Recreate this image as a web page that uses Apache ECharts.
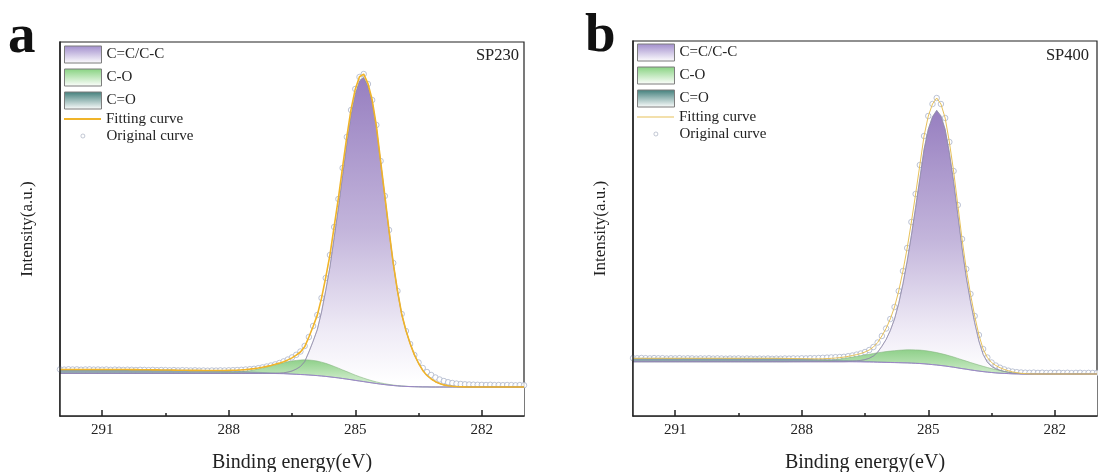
<!DOCTYPE html>
<html><head><meta charset="utf-8">
<script src="https://cdn.jsdelivr.net/npm/echarts@6/dist/echarts.min.js"></script>
<style>html,body{margin:0;padding:0;background:#fff}#c{width:1098px;height:472px}</style>
</head><body><div id="c"></div>
<script>
// Binding energy grid (eV), 0.1 eV steps from 292.0 to 281.0
const ENERGY = [
292,291.9,291.8,291.7,291.6,291.5,291.4,291.3,291.2,291.1,
291,290.9,290.8,290.7,290.6,290.5,290.4,290.3,290.2,290.1,
290,289.9,289.8,289.7,289.6,289.5,289.4,289.3,289.2,289.1,
289,288.9,288.8,288.7,288.6,288.5,288.4,288.3,288.2,288.1,
288,287.9,287.8,287.7,287.6,287.5,287.4,287.3,287.2,287.1,
287,286.9,286.8,286.7,286.6,286.5,286.4,286.3,286.2,286.1,
286,285.9,285.8,285.7,285.6,285.5,285.4,285.3,285.2,285.1,
285,284.9,284.8,284.7,284.6,284.5,284.4,284.3,284.2,284.1,
284,283.9,283.8,283.7,283.6,283.5,283.4,283.3,283.2,283.1,
283,282.9,282.8,282.7,282.6,282.5,282.4,282.3,282.2,282.1,
282,281.9,281.8,281.7,281.6,281.5,281.4,281.3,281.2,281.1,
281];
const MAJOR_TICKS = [291, 288, 285, 282];
const MINOR_TICKS = [289.5, 286.5, 283.5];
const LEGEND_AREAS = ['C=C/C-C', 'C-O', 'C=O'];

// ---------- SP230 (panel a), intensity in a.u. ----------
const ORIG_A = [
46.6,46.4,46.7,46.5,46.6,46.3,46.5,46.6,46.4,46.5,
46.3,46.5,46.2,46.4,46.3,46.1,46.3,46.2,46.0,46.2,
46.1,45.9,46.1,45.8,46.0,45.9,45.7,45.9,45.6,45.8,
45.7,45.5,45.7,45.4,45.5,45.3,45.5,45.4,45.6,45.5,
45.7,45.8,46.0,46.2,46.5,46.8,47.2,47.8,48.6,49.5,
50.5,51.6,53.0,54.6,56.5,58.6,61.2,64.5,70,79,
90,101,118,138,161,189,217,248,279,306,
327,339,342,332,316,291,255,220,186,153,
125,102,85,72,61,53.5,48,44,41,38.5,
36.5,35,33.8,33,32.4,32,31.7,31.5,31.3,31.2,
31.1,31.0,31.2,30.9,31.0,30.8,31.0,30.9,30.7,30.9,
30.8];
const BG_A = [
42.6,42.6,42.6,42.6,42.6,42.6,42.6,42.6,42.6,42.6,
42.6,42.6,42.6,42.6,42.6,42.6,42.6,42.6,42.6,42.6,
42.6,42.6,42.6,42.6,42.6,42.6,42.6,42.6,42.6,42.6,
42.6,42.6,42.6,42.6,42.6,42.6,42.6,42.6,42.6,42.6,
42.6,42.6,42.6,42.6,42.6,42.6,42.6,42.6,42.6,42.6,
42.6,42.5,42.4,42.3,42.1,41.9,41.7,41.5,41.3,41.0,
40.7,40.4,40.0,39.6,39.1,38.6,38.1,37.5,36.9,36.3,
35.6,35.0,34.4,33.7,33.1,32.5,31.9,31.4,30.9,30.5,
30.1,29.8,29.6,29.4,29.3,29.2,29.1,29.1,29.0,29.0,
29,29,29,29,29,29,29,29,29,29,
29,29,29,29,29,29,29,29,29,29,
29];
const CC_A = [
0,0,0,0,0,0,0,0,0,0,
0,0,0,0,0,0,0,0,0,0,
0,0,0,0,0,0,0,0,0,0,
0,0,0,0,0,0,0,0,0,0,
0,0,0,0,0,0,0,0,0,0,
0,0.2,0.4,0.9,1.8,3.1,5.2,8,13,23,
34,46,64,86,110,140,170,203,235,264,
286,300,304,296,281,256,222,188,154,122,
95,72,56,43,32,23.5,16.5,11.5,8,5.3,
3.4,2.1,1.3,0.8,0.45,0.25,0.12,0.05,0,0,
0,0,0,0,0,0,0,0,0,0,
0];
const CO_A = [
0,0,0,0,0,0,0,0,0,0,
0,0,0,0,0,0,0,0,0,0,
0,0,0,0,0,0,0,0,0,0,
0,0,0,0.04,0.06,0.1,0.15,0.23,0.33,0.47,
0.66,0.9,1.2,1.6,2.1,2.75,3.45,4.3,5.25,6.3,
7.48,8.56,9.76,10.94,12.05,13.04,13.87,14.49,14.87,15,
14.87,14.49,13.87,13.04,12.05,10.94,9.76,8.56,7.48,6.3,
5.25,4.3,3.45,2.75,2.1,1.6,1.2,0.9,0.66,0.47,
0.33,0.23,0.15,0.1,0.06,0.04,0,0,0,0,
0,0,0,0,0,0,0,0,0,0,
0,0,0,0,0,0,0,0,0,0,
0];
const CDO_A = [
3.9,3.9,3.9,3.9,3.9,3.9,3.9,3.9,3.9,3.9,
3.9,3.9,3.9,3.9,3.9,3.9,3.85,3.8,3.75,3.7,
3.65,3.6,3.55,3.5,3.45,3.4,3.35,3.3,3.2,3.15,
3.1,3.05,3.0,2.95,2.9,2.8,2.75,2.7,2.6,2.5,
2.4,2.25,2.1,1.9,1.7,1.5,1.3,1.1,0.9,0.7,
0.5,0.4,0.3,0.2,0.15,0.1,0.05,0,0,0,
0,0,0,0,0,0,0,0,0,0,
0,0,0,0,0,0,0,0,0,0,
0,0,0,0,0,0,0,0,0,0,
0,0,0,0,0,0,0,0,0,0,
0,0,0,0,0,0,0,0,0,0,
0];

// ---------- SP400 (panel b), intensity in a.u. ----------
const ORIG_B = [
57.9,57.7,58.0,57.8,57.6,57.9,57.7,57.8,57.5,57.7,
57.6,57.8,57.5,57.7,57.6,57.4,57.6,57.5,57.7,57.4,
57.6,57.5,57.3,57.5,57.4,57.6,57.3,57.5,57.4,57.2,
57.4,57.3,57.5,57.2,57.4,57.3,57.5,57.4,57.6,57.5,
57.7,57.6,57.8,57.8,58.0,58.2,58.4,58.6,58.8,59.0,
59.2,59.8,60.5,61.4,62.5,64,66,69,73.5,80,
87.5,97,109,125,145,168,194,222,251,280,
300,312,318,312,298,274,245,211,177,147,
122,100,81,67,58.5,53.5,50.5,48.3,46.6,45.3,
44.4,43.8,43.5,43.3,43.2,43.4,43.1,43.3,43.0,43.2,
43.1,43.3,43.0,43.2,42.9,43.1,43.2,42.9,43.1,43.0,
43.1];
const BG_B = [
54.3,54.3,54.3,54.3,54.3,54.3,54.3,54.3,54.3,54.3,
54.3,54.3,54.3,54.3,54.3,54.3,54.3,54.3,54.3,54.3,
54.3,54.3,54.3,54.3,54.3,54.3,54.3,54.3,54.3,54.3,
54.3,54.3,54.3,54.3,54.3,54.3,54.3,54.3,54.3,54.3,
54.3,54.3,54.3,54.3,54.3,54.3,54.3,54.3,54.3,54.3,
54.3,54.25,54.2,54.15,54.1,54.0,53.95,53.9,53.8,53.7,
53.6,53.5,53.4,53.3,53.2,53.1,52.9,52.7,52.5,52.2,
51.8,51.4,51.0,50.5,50.0,49.4,48.8,48.1,47.4,46.8,
46.1,45.5,44.9,44.4,43.9,43.5,43.1,42.8,42.6,42.4,
42.2,42.1,42.0,42,42,42,42,42,42,42,
42,42,42,42,42,42,42,42,42,42,
42];
const CC_B = [
0,0,0,0,0,0,0,0,0,0,
0,0,0,0,0,0,0,0,0,0,
0,0,0,0,0,0,0,0,0,0,
0,0,0,0,0,0,0,0,0,0,
0,0,0,0,0,0,0,0,0,0,
0,0.2,0.6,1.0,1.5,2.4,3.75,6.1,10,16,
22.9,32,43.6,59.3,79,101.8,127.8,155.9,185,214.5,
235,247.8,254.6,249.6,236.6,213.8,186,153.4,120.8,92.1,
68.5,47.8,30.1,17.3,10,6.1,4.1,2.8,1.9,1.3,
0.8,0.5,0.3,0.15,0.05,0,0,0,0,0,
0,0,0,0,0,0,0,0,0,0,
0];
const CO_B = [
0,0,0,0,0,0,0,0,0,0,
0,0,0,0,0,0,0,0,0,0,
0,0,0,0,0,0,0,0,0,0,
0,0,0,0,0,0,0,0.05,0.08,0.11,
0.15,0.22,0.3,0.42,0.58,0.8,1.15,1.55,2.05,2.65,
3.3,4.0,4.7,5.4,6.2,7.0,7.8,8.6,9.4,10.1,
10.8,11.4,11.9,12.4,12.8,13.1,13.3,13.4,13.4,13.3,
13.1,12.8,12.4,11.9,11.4,10.8,10.2,9.5,8.8,8.1,
7.4,6.7,6.0,5.3,4.6,3.9,3.3,2.7,2.1,1.6,
1.1,0.7,0.4,0.2,0.1,0,0,0,0,0,
0,0,0,0,0,0,0,0,0,0,
0];
const CDO_B = [
3.4,3.4,3.4,3.4,3.4,3.4,3.4,3.4,3.4,3.4,
3.4,3.4,3.4,3.4,3.4,3.4,3.4,3.4,3.4,3.4,
3.4,3.4,3.4,3.4,3.4,3.4,3.4,3.4,3.4,3.4,
3.4,3.4,3.4,3.4,3.4,3.35,3.3,3.2,3.1,3.0,
2.9,2.75,2.6,2.45,2.3,2.15,2.0,1.8,1.6,1.45,
1.3,1.15,1.0,0.85,0.7,0.6,0.5,0.4,0.3,0.25,
0.2,0.15,0.1,0.05,0,0,0,0,0,0,
0,0,0,0,0,0,0,0,0,0,
0,0,0,0,0,0,0,0,0,0,
0,0,0,0,0,0,0,0,0,0,
0,0,0,0,0,0,0,0,0,0,
0];

const FONT = '"Liberation Serif", "Times New Roman", serif';
const INK = '#222';

// Table builders: each component is drawn on top of the background
function pairs(arr) { return ENERGY.map((e, i) => [e, arr[i]]); }
function onBg(bg, comps) { return ENERGY.map((e, i) => [e, comps.reduce((s, c) => s + c[i], bg[i])]); }
function grad(stops) {
  return new echarts.graphic.LinearGradient(0, 0, 0, 1, stops.map(s => ({offset: s[0], color: s[1]})));
}

const PANELS = [
  {orig: ORIG_A, bg: BG_A, cc: CC_A, co: CO_A, cdo: CDO_A, fitColor: '#f0b429', fitWidth: 1.6, fitLegendH: 2,
   grid: {left: 60, top: 42, width: 464, height: 374}, ymax: 374, legendLeft: 64, legendTop: 45.5,
   ccStops: [[0, '#977fc0'], [0.45, '#c3b5db'], [0.75, '#efebf6'], [0.9, '#ffffff']],
   coStops: [[0, '#8fd08a'], [0.3, '#c3e7be'], [1, '#ffffff']],
   cdoStops: [[0, '#7c98a3'], [0.1, '#a5b7bf'], [1, '#ffffff']]},
  {orig: ORIG_B, bg: BG_B, cc: CC_B, co: CO_B, cdo: CDO_B, fitColor: '#e7c15a', fitWidth: 1.0, fitLegendH: 1.2,
   grid: {left: 633, top: 41, width: 464, height: 375}, ymax: 375, legendLeft: 637, legendTop: 43.5,
   ccStops: [[0, '#977fc0'], [0.42, '#c3b5db'], [0.72, '#efebf6'], [0.86, '#ffffff']],
   coStops: [[0, '#8fd08a'], [0.3, '#c3e7be'], [1, '#ffffff']],
   cdoStops: [[0, '#7c98a3'], [0.1, '#a5b7bf'], [1, '#ffffff']]}
];

const grids = [], xAxes = [], yAxes = [], series = [], legends = [];
PANELS.forEach((P, p) => {
  grids.push(Object.assign({show: true, borderColor: INK, borderWidth: 1.2, containLabel: false,
    outerBoundsMode: 'none'}, P.grid));
  xAxes.push({
    gridIndex: p, type: 'value', min: 281, max: 292, inverse: true, position: 'bottom', z: 10,
    axisLine: {show: true, onZero: false, lineStyle: {color: INK, width: 1.5}},
    axisTick: {show: true, inside: true, length: 6, customValues: MAJOR_TICKS, lineStyle: {color: INK, width: 1.5}},
    axisLabel: {show: true, customValues: MAJOR_TICKS, margin: 7, color: INK, fontFamily: FONT, fontSize: 15},
    splitLine: {show: false},
    name: 'Binding energy(eV)', nameLocation: 'middle', nameGap: 37,
    nameTextStyle: {fontFamily: FONT, fontSize: 20, color: INK}
  });
  xAxes.push({
    gridIndex: p, type: 'value', min: 281, max: 292, inverse: true, position: 'bottom', z: 10,
    axisLine: {show: false},
    axisTick: {show: true, inside: true, length: 3, customValues: MINOR_TICKS, lineStyle: {color: INK, width: 1.5}},
    axisLabel: {show: false}, splitLine: {show: false}
  });
  yAxes.push({
    gridIndex: p, type: 'value', min: 0, max: P.ymax, z: 10,
    axisLine: {show: true, onZero: false, lineStyle: {color: INK, width: 1.5}},
    axisTick: {show: false}, axisLabel: {show: false}, splitLine: {show: false},
    name: 'Intensity(a.u.)', nameLocation: 'middle', nameGap: 24,
    nameTextStyle: {fontFamily: FONT, fontSize: 17, color: INK}
  });
  const xi = 2 * p, yi = p;
  const base = {type: 'line', xAxisIndex: xi, yAxisIndex: yi, symbol: 'none', silent: true, animation: false};
  series.push(
    Object.assign({}, base, {name: 'C=C/C-C', data: onBg(P.bg, [P.cc]),
      lineStyle: {color: '#8c87a6', width: 0.7}, areaStyle: {color: grad(P.ccStops), opacity: 1}}),
    Object.assign({}, base, {name: 'C-O', data: onBg(P.bg, [P.co]),
      lineStyle: {color: '#86b582', width: 0.6}, areaStyle: {color: grad(P.coStops), opacity: 1}}),
    Object.assign({}, base, {name: 'C=O', data: onBg(P.bg, [P.cdo]),
      lineStyle: {color: '#7f97a3', width: 0.6}, areaStyle: {color: grad(P.cdoStops), opacity: 1}}),
    Object.assign({}, base, {name: 'Background' + p, data: pairs(P.bg),
      lineStyle: {color: '#9b84c6', width: 1}, areaStyle: {color: '#ffffff', opacity: 1}}),
    Object.assign({}, base, {name: 'C=C outline' + p, data: onBg(P.bg, [P.cc]),
      lineStyle: {color: '#8c87a6', width: 0.6, opacity: 0.8}}),
    Object.assign({}, base, {name: 'Fitting curve', data: onBg(P.bg, [P.cdo, P.co, P.cc]),
      lineStyle: {color: P.fitColor, width: P.fitWidth}}),
    {type: 'scatter', name: 'Original curve', xAxisIndex: xi, yAxisIndex: yi, data: pairs(P.orig),
      symbol: 'circle', symbolSize: 5.5, silent: true, animation: false,
      itemStyle: {color: '#ffffff', borderColor: '#a3adc4', borderWidth: 0.9}}
  );
  const ts = {fontFamily: FONT, fontSize: 15, color: INK};
  legends.push(
    {left: P.legendLeft, top: P.legendTop, orient: 'vertical', itemWidth: 37, itemHeight: 17, itemGap: 5,
     selectedMode: false, textStyle: ts, padding: 0,
     data: [
       {name: LEGEND_AREAS[0], icon: 'rect', itemStyle: {color: grad([[0, '#a08ccc'], [1, '#ffffff']]), borderColor: '#7d7d7d', borderWidth: 1}},
       {name: LEGEND_AREAS[1], icon: 'rect', itemStyle: {color: grad([[0, '#86d27f'], [1, '#ffffff']]), borderColor: '#7d7d7d', borderWidth: 1}},
       {name: LEGEND_AREAS[2], icon: 'rect', itemStyle: {color: grad([[0, '#3f7d79'], [1, '#ffffff']]), borderColor: '#7d7d7d', borderWidth: 1}}
     ]},
    {left: P.legendLeft, top: P.legendTop + 66, itemWidth: 37, itemHeight: P.fitLegendH,
     selectedMode: false, textStyle: ts, padding: 0,
     data: [{name: 'Fitting curve', icon: 'rect', itemStyle: {color: P.fitColor, borderWidth: 0}}]},
    {left: P.legendLeft + 16.5, top: P.legendTop + 83, itemWidth: 37, itemHeight: 4,
     selectedMode: false, textStyle: ts, padding: 0,
     data: [{name: 'Original curve', icon: 'circle', itemStyle: {color: '#ffffff', borderColor: '#a0a8bc', borderWidth: 0.8}}]}
  );
});

const chart = echarts.init(document.getElementById('c'), null, {renderer: 'canvas'});
chart.setOption({
  animation: false,
  backgroundColor: '#ffffff',
  title: [
    {text: 'a', left: 8, top: 10, padding: 0, textStyle: {fontFamily: FONT, fontWeight: 'bold', fontSize: 55, color: '#111'}},
    {text: 'b', left: 585, top: 9, padding: 0, textStyle: {fontFamily: FONT, fontWeight: 'bold', fontSize: 55, color: '#111'}},
    {text: 'SP230', right: 574, top: 42, textStyle: {fontFamily: FONT, fontWeight: 'normal', fontSize: 16.5, color: INK}},
    {text: 'SP400', right: 4, top: 42, textStyle: {fontFamily: FONT, fontWeight: 'normal', fontSize: 16.5, color: INK}}
  ],
  grid: grids, xAxis: xAxes, yAxis: yAxes, legend: legends, series: series
});
</script></body></html>
